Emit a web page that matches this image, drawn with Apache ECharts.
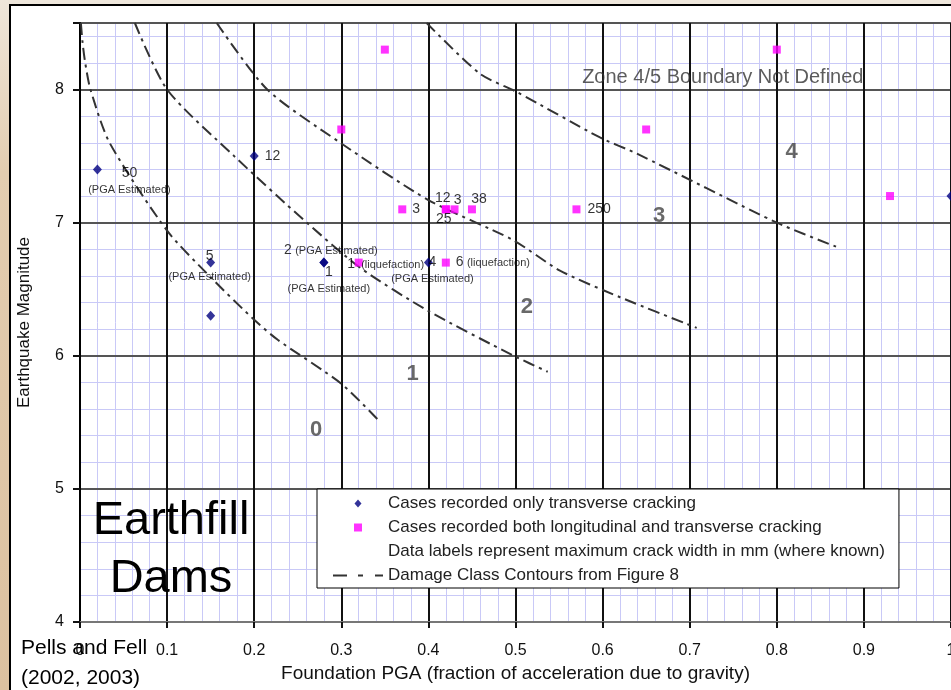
<!DOCTYPE html>
<html><head><meta charset="utf-8">
<script src="https://cdn.jsdelivr.net/npm/echarts@6/dist/echarts.min.js"></script>
<style>
html,body{margin:0;padding:0;width:951px;height:690px;overflow:hidden;background:#efe7dc;}
#strip{position:absolute;left:0;top:0;width:10px;height:690px;background:linear-gradient(to bottom,#efe6da 0%,#e3cdb0 25%,#dcc1a0 100%);}
#panel{position:absolute;left:9px;top:4px;right:0;bottom:0;border-left:2px solid #000;border-top:2px solid #000;background:#fff;}
#chart{position:absolute;left:0;top:0;width:951px;height:690px;}
</style></head><body>
<div id="strip"></div><div id="panel"></div><div id="chart"></div>
<script>
const FONT = '"Liberation Sans", Arial, sans-serif';

// ---- data ----
const xMin = 0, xMax = 1.0, yMin = 4, yMax = 8.5;

const transverseX = [0.02, 0.2, 0.15, 0.15, 0.28, 0.28, 0.4, 1.0];
const transverseY = [7.4, 7.5, 6.7, 6.3, 6.7, 6.7, 6.7, 7.2];
const transverseCrack = ['50', '12', '5', '', '2', '1', '4', ''];
const transverseNote = ['(PGA Estimated)', '', '(PGA Estimated)', '', '(PGA Estimated)', '(PGA Estimated)', '(PGA Estimated)', ''];

const bothX = [0.35, 0.3, 0.37, 0.42, 0.42, 0.43, 0.45, 0.57, 0.65, 0.8, 0.93, 0.32, 0.42];
const bothY = [8.3, 7.7, 7.1, 7.1, 7.1, 7.1, 7.1, 7.1, 7.7, 8.3, 7.2, 6.7, 6.7];
const bothCrack = ['', '', '3', '12', '25', '3', '38', '250', '', '', '', '1', '6'];
const bothNote = ['', '', '', '', '', '', '', '', '', '', '', '(liquefaction)', '(liquefaction)'];

const contour0 = [[0.001,8.5],[0.003,8.35],[0.006,8.2],[0.012,8.0],[0.034,7.6],[0.1,6.94],[0.15,6.59],[0.2,6.27],[0.227,6.12],[0.3,5.79],[0.345,5.5]];
const contour1 = [[0.063,8.5],[0.1,8.0],[0.177,7.5],[0.257,7.02],[0.322,6.66],[0.399,6.34],[0.498,6.0],[0.537,5.88]];
const contour2 = [[0.157,8.5],[0.215,8.0],[0.299,7.6],[0.4,7.17],[0.497,6.87],[0.551,6.64],[0.62,6.44],[0.708,6.21]];
const contour3 = [[0.398,8.5],[0.459,8.12],[0.502,7.98],[0.597,7.64],[0.639,7.52],[0.8,7.0],[0.868,6.82]];

const zoneNames = ['0', '1', '2', '3', '4'];
const zoneX = [0.271, 0.382, 0.513, 0.665, 0.817];
const zoneY = [5.44, 5.86, 6.37, 7.05, 7.535];
const boundaryNote = ['Zone 4/5 Boundary Not Defined'];
const boundaryX = [0.738];
const boundaryY = [8.09];

const legendNames = ['Cases recorded only transverse cracking',
  'Cases recorded both longitudinal and transverse cracking',
  'Data labels represent maximum crack width in mm (where known)',
  'Damage Class Contours from Figure 8'];

// ---- label layout (style only) ----
const transverseLayout = [
  {mode:'stack', dx:32, dy:12, lh:17},
  {mode:'right', dist:6},
  {mode:'stack', dx:-1, dy:4, lh:21},
  null,
  {mode:'inline', dx:7, dy:-12},
  {mode:'stack', dx:5, dy:18, lh:16},
  {mode:'stack', dx:4, dy:8, lh:17},
  null
];
const bothLayout = [
  null, null,
  {mode:'right', dist:6},
  {mode:'inline', dx:-3, dy:-11},
  {mode:'inline', dx:-2, dy:10},
  {mode:'inline', dx:3, dy:-9},
  {mode:'inline', dx:7, dy:-10},
  {mode:'right', dist:7},
  null, null, null,
  {mode:'split', dx:27, dy:2},
  {mode:'right', dist:6}
];

function makeLabel(crack, note, L) {
  if (!L) return {show:false};
  const lh = L.lh || 16;
  const rich = {
    c: {fontSize:14, color:'#000', fontFamily:FONT, lineHeight:lh},
    n: {fontSize:11, color:'#000', fontFamily:FONT, lineHeight:lh},
    g: {width:6}
  };
  let f;
  if (L.mode === 'stack') f = '{c|' + crack + '}\n{n|' + note + '}';
  else if (L.mode === 'split') f = '{c|' + crack + '}{g|}{n|' + note + '}';
  else f = note ? '{c|' + crack + '} {n|' + note + '}' : '{c|' + crack + '}';
  const lab = {show:true, formatter:f, rich:rich, align:'center'};
  if (L.mode === 'right') { lab.position = 'right'; lab.distance = L.dist; lab.align = 'left'; }
  else { lab.position = 'inside'; lab.offset = [L.dx, L.dy]; }
  return lab;
}

const transverseData = transverseX.map((x, i) => ({value:[x, transverseY[i]], label:makeLabel(transverseCrack[i], transverseNote[i], transverseLayout[i])}));
const bothData = bothX.map((x, i) => ({value:[x, bothY[i]], label:makeLabel(bothCrack[i], bothNote[i], bothLayout[i])}));
const zoneData = zoneNames.map((n, i) => ({name:n, value:[zoneX[i], zoneY[i]]}));
const boundaryData = boundaryNote.map((n, i) => ({name:n, value:[boundaryX[i], boundaryY[i]]}));

const contourStyle = {color:'#333', width:2, type:[12,5,3,5]};
function contour(d) {
  return {name:legendNames[3], type:'line', xAxisIndex:1, yAxisIndex:1, data:d, symbol:'none', showSymbol:false,
    smooth:0.25, lineStyle:contourStyle, itemStyle:{color:'#333'}, silent:true, z:3};
}

const chart = echarts.init(document.getElementById('chart'), null, {renderer:'canvas'});
chart.setOption({
  animation:false,
  backgroundColor:'transparent',
  textStyle:{fontFamily:FONT},
  grid:{left:80, right:0, top:23, bottom:68, containLabel:false, outerBoundsMode:'none'},
  xAxis:[
    {type:'value', position:'bottom', min:xMin, max:xMax, interval:0.02, z:0,
      axisLine:{show:false}, axisTick:{show:false}, axisLabel:{show:false},
      splitLine:{show:true, lineStyle:{color:'#c9c9f7', width:1}}},
    {type:'value', position:'bottom', min:xMin, max:xMax, interval:0.1, z:1,
      name:'Foundation PGA (fraction of acceleration due to gravity)', nameLocation:'middle', nameGap:42,
      nameTextStyle:{fontSize:19, color:'#111', fontFamily:FONT},
      axisLine:{show:true, onZero:false, lineStyle:{color:'#777', width:2}},
      axisTick:{show:true, length:6, lineStyle:{color:'#111', width:2}},
      axisLabel:{show:true, margin:21, fontSize:16, color:'#111', fontFamily:FONT,
        formatter: v => (Math.round(v*10)/10).toString()},
      splitLine:{show:true, lineStyle:{color:'#111', width:2}}}
  ],
  yAxis:[
    {type:'value', position:'left', min:yMin, max:yMax, interval:0.2, z:0,
      axisLine:{show:false}, axisTick:{show:false}, axisLabel:{show:false},
      splitLine:{show:true, lineStyle:{color:'#c9c9f7', width:1}}},
    {type:'value', position:'left', min:yMin, max:yMax, interval:1, z:1,
      name:'Earthquake Magnitude', nameLocation:'middle', nameGap:47, nameRotate:90,
      nameTextStyle:{fontSize:17, color:'#111', fontFamily:FONT},
      axisLine:{show:true, onZero:false, lineStyle:{color:'#000', width:2}},
      axisTick:{show:true, length:7, lineStyle:{color:'#111', width:2}},
      axisLabel:{show:true, margin:16, fontSize:16, color:'#111', fontFamily:FONT,
        formatter: v => (v % 1 === 0 ? String(v) : '')},
      splitLine:{show:true, lineStyle:{color:'#555', width:2}}}
  ],
  legend:{
    orient:'vertical', left:317, top:489, padding:[6,14,4,16],
    itemWidth:50, itemHeight:8, itemGap:7, symbolKeepAspect:true,
    backgroundColor:'#fff', borderColor:'#000', borderWidth:1, borderRadius:0,
    selectedMode:false,
    textStyle:{fontSize:17, color:'#222', fontFamily:FONT},
    data:[
      {name:legendNames[0], icon:'path://M3.5,0L7,4L3.5,8L0,4Z'},
      {name:legendNames[1], icon:'path://M0,0h8v8h-8z'},
      {name:legendNames[2], icon:'rect', itemStyle:{color:'rgba(0,0,0,0)', borderWidth:0, opacity:0}},
      {name:legendNames[3], icon:'path://M0,0h14v2h-14z M25,0h5v2h-5z M42,0h8v2h-8z', itemStyle:{color:'#333'}}
    ]
  },
  graphic:[
    {type:'text', x:171, y:521, z:5, style:{text:'Earthfill', fontSize:47, fontFamily:FONT, fill:'#000', align:'center', verticalAlign:'middle'}},
    {type:'text', x:171, y:579, z:5, style:{text:'Dams', fontSize:47, fontFamily:FONT, fill:'#000', align:'center', verticalAlign:'middle'}},
    {type:'text', x:21, y:663, z:5, style:{text:'Pells and Fell\n(2002, 2003)', fontSize:21, lineHeight:30, fontFamily:FONT, fill:'#000', align:'left', verticalAlign:'middle'}}
  ],
  series:[
    {name:legendNames[0], type:'scatter', xAxisIndex:1, yAxisIndex:1, symbol:'diamond', symbolSize:[9,10],
      itemStyle:{color:'#000080'}, data:transverseData, z:4, silent:true},
    {name:legendNames[1], type:'scatter', xAxisIndex:1, yAxisIndex:1, symbol:'rect', symbolSize:8,
      itemStyle:{color:'#ff00ff'}, data:bothData, z:4, silent:true},
    {name:legendNames[2], type:'scatter', xAxisIndex:1, yAxisIndex:1, data:[], symbolSize:0},
    contour(contour0), contour(contour1), contour(contour2), contour(contour3),
    {name:'zones', type:'scatter', xAxisIndex:1, yAxisIndex:1, symbolSize:0, data:zoneData, silent:true, z:4,
      label:{show:true, position:'inside', formatter:'{b}', fontSize:22, fontWeight:'bold', color:'#444', fontFamily:FONT}},
    {name:'boundary', type:'scatter', xAxisIndex:1, yAxisIndex:1, symbolSize:0, data:boundaryData, silent:true, z:4,
      label:{show:true, position:'inside', formatter:'{b}', fontSize:20, color:'#333', fontFamily:FONT}}
  ]
});
</script></body></html>
